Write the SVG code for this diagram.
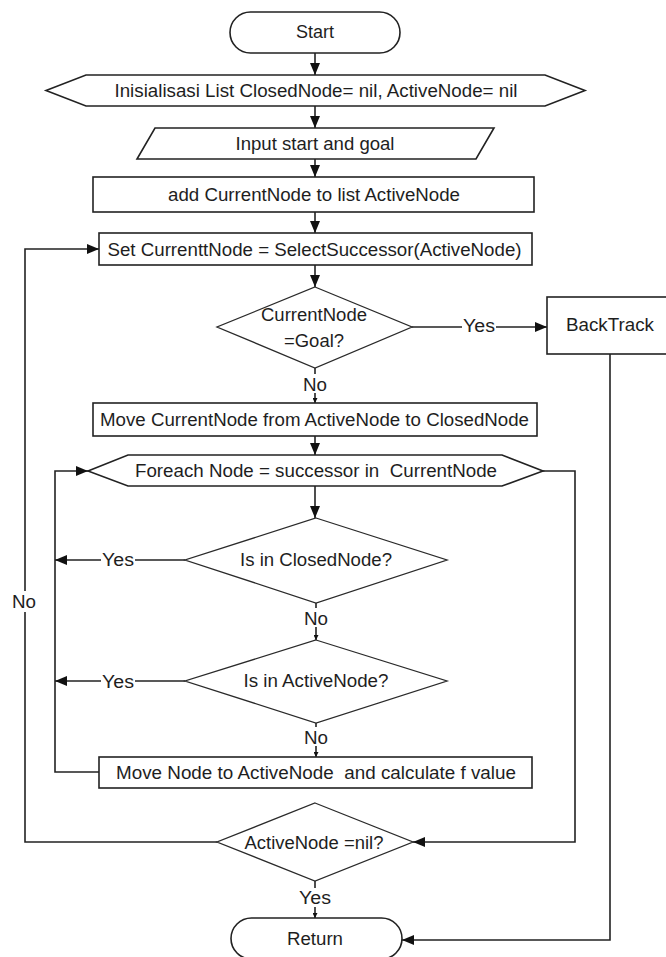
<svg xmlns="http://www.w3.org/2000/svg" width="666" height="957" viewBox="0 0 666 957">
<style>
  .shape { fill: #ffffff; stroke: #222222; stroke-width: 1.6; }
  .dia { fill: #ffffff; stroke: #2a2a2a; stroke-width: 1.3; }
  .t { font-family: "Liberation Sans", Arial, sans-serif; font-size: 17.5px; fill: #1e1e1e; text-anchor: middle; }
  .ln { fill: none; stroke: #222222; stroke-width: 1.6; }
  .bg { fill: #ffffff; stroke: none; }
</style>
<defs>
  <marker id="arr" markerUnits="userSpaceOnUse" markerWidth="12" markerHeight="10" refX="12" refY="5" orient="auto">
    <path d="M0,0 L12,5 L0,10 z" fill="#111111"/>
  </marker>
  <marker id="sarr" markerUnits="userSpaceOnUse" markerWidth="5" markerHeight="5" refX="5" refY="2.5" orient="auto">
    <path d="M0,0 L5,2.5 L0,5 z" fill="#111111"/>
  </marker>
</defs>
<rect width="666" height="957" fill="#ffffff"/>

<g id="connectors">
  <path class="ln" d="M315,53 V75" marker-end="url(#arr)"/>
  <path class="ln" d="M315,106 V128" marker-end="url(#arr)"/>
  <path class="ln" d="M315,159 V177" marker-end="url(#arr)"/>
  <path class="ln" d="M315,212 V233" marker-end="url(#arr)"/>
  <path class="ln" d="M315,265 V287" marker-end="url(#arr)"/>
  <path class="ln" d="M412,327 H547" marker-end="url(#arr)"/>
  <path class="ln" d="M315,368 V403" marker-end="url(#sarr)"/>
  <path class="ln" d="M315,436 V455" marker-end="url(#arr)"/>
  <path class="ln" d="M315,486 V518" marker-end="url(#arr)"/>
  <path class="ln" d="M543,471 H575 V842 H413" marker-end="url(#arr)"/>
  <path class="ln" d="M185,560 H55" marker-end="url(#arr)"/>
  <path class="ln" d="M316,603 V640" marker-end="url(#sarr)"/>
  <path class="ln" d="M185,681 H55" marker-end="url(#arr)"/>
  <path class="ln" d="M316,723 V757" marker-end="url(#sarr)"/>
  <path class="ln" d="M99,772 H55 V471 H88" marker-end="url(#arr)"/>
  <path class="ln" d="M217,842 H25 V249 H99" marker-end="url(#arr)"/>
  <path class="ln" d="M315,881 V918" marker-end="url(#sarr)"/>
  <path class="ln" d="M610,354 V940 H402" marker-end="url(#arr)"/>

  <rect class="bg" x="462" y="317" width="34" height="19"/>
  <text class="t" x="479" y="332" textLength="32" lengthAdjust="spacingAndGlyphs">Yes</text>
  <rect class="bg" x="303" y="374" width="26" height="19"/>
  <text class="t" x="315" y="391" textLength="24" lengthAdjust="spacingAndGlyphs">No</text>
  <rect class="bg" x="101" y="550" width="34" height="19"/>
  <text class="t" x="118" y="566" textLength="32" lengthAdjust="spacingAndGlyphs">Yes</text>
  <rect class="bg" x="303" y="608" width="26" height="19"/>
  <text class="t" x="316" y="625" textLength="24" lengthAdjust="spacingAndGlyphs">No</text>
  <rect class="bg" x="101" y="672" width="34" height="19"/>
  <text class="t" x="118" y="688" textLength="32" lengthAdjust="spacingAndGlyphs">Yes</text>
  <rect class="bg" x="303" y="727" width="26" height="19"/>
  <text class="t" x="316" y="744" textLength="24" lengthAdjust="spacingAndGlyphs">No</text>
  <rect class="bg" x="12" y="591" width="26" height="21"/>
  <text class="t" x="24" y="608" textLength="24" lengthAdjust="spacingAndGlyphs">No</text>
  <rect class="bg" x="298" y="888" width="34" height="19"/>
  <text class="t" x="315" y="904" textLength="32" lengthAdjust="spacingAndGlyphs">Yes</text>
</g>

<g id="start">
  <rect class="shape" x="230" y="12" width="170" height="41" rx="20.5" ry="20.5"/>
  <text class="t" x="315" y="38" textLength="38" lengthAdjust="spacingAndGlyphs">Start</text>
</g>
<g id="init">
  <polygon class="shape" points="46,90.5 86,75 545,75 585,90.5 545,106 86,106"/>
  <text class="t" x="316" y="96.5" textLength="403" lengthAdjust="spacingAndGlyphs">Inisialisasi List ClosedNode= nil, ActiveNode= nil</text>
</g>
<g id="input">
  <polygon class="shape" points="155,128 494,128 476,159 137,159"/>
  <text class="t" x="315" y="149.5" textLength="159" lengthAdjust="spacingAndGlyphs">Input start and goal</text>
</g>
<g id="add-current">
  <rect class="shape" x="93" y="177" width="441" height="35"/>
  <text class="t" x="314" y="200.5" textLength="292" lengthAdjust="spacingAndGlyphs">add CurrentNode to list ActiveNode</text>
</g>
<g id="set-current">
  <rect class="shape" x="99" y="233" width="433" height="32"/>
  <text class="t" x="314.5" y="255.5" textLength="414" lengthAdjust="spacingAndGlyphs">Set CurrenttNode = SelectSuccessor(ActiveNode)</text>
</g>
<g id="is-goal">
  <polygon class="dia" points="315,287 412,327 315,368 217,327"/>
  <text class="t" x="314" y="321" textLength="106" lengthAdjust="spacingAndGlyphs">CurrentNode</text>
  <text class="t" x="314" y="346.5" textLength="60" lengthAdjust="spacingAndGlyphs">=Goal?</text>
</g>
<g id="backtrack">
  <rect class="shape" x="547" y="297" width="126" height="57"/>
  <text class="t" x="610" y="331" textLength="88" lengthAdjust="spacingAndGlyphs">BackTrack</text>
</g>
<g id="move-current">
  <rect class="shape" x="93" y="403" width="444" height="33"/>
  <text class="t" x="314.5" y="425.5" textLength="429" lengthAdjust="spacingAndGlyphs">Move CurrentNode from ActiveNode to ClosedNode</text>
</g>
<g id="foreach">
  <polygon class="shape" points="88,471 128,455 502,455 543,471 502,486 128,486"/>
  <text class="t" x="316" y="476.5" xml:space="preserve" style="white-space:pre" textLength="362" lengthAdjust="spacingAndGlyphs">Foreach Node = successor in  CurrentNode</text>
</g>
<g id="in-closed">
  <polygon class="dia" points="316,518 447,560 316,603 185,560"/>
  <text class="t" x="316" y="565.5" textLength="152" lengthAdjust="spacingAndGlyphs">Is in ClosedNode?</text>
</g>
<g id="in-active">
  <polygon class="dia" points="316,640 447,681 316,723 185,681"/>
  <text class="t" x="316" y="686.5" textLength="145" lengthAdjust="spacingAndGlyphs">Is in ActiveNode?</text>
</g>
<g id="move-node">
  <rect class="shape" x="99" y="757" width="433" height="31"/>
  <text class="t" x="316" y="778.5" xml:space="preserve" style="white-space:pre" textLength="400" lengthAdjust="spacingAndGlyphs">Move Node to ActiveNode  and calculate f value</text>
</g>
<g id="active-nil">
  <polygon class="dia" points="315,803 413,842 315,881 217,842"/>
  <text class="t" x="314" y="848.5" textLength="139" lengthAdjust="spacingAndGlyphs">ActiveNode =nil?</text>
</g>
<g id="return">
  <rect class="shape" x="231" y="918" width="171" height="41" rx="20.5" ry="20.5"/>
  <text class="t" x="315" y="944.5" textLength="56" lengthAdjust="spacingAndGlyphs">Return</text>
</g>
</svg>
